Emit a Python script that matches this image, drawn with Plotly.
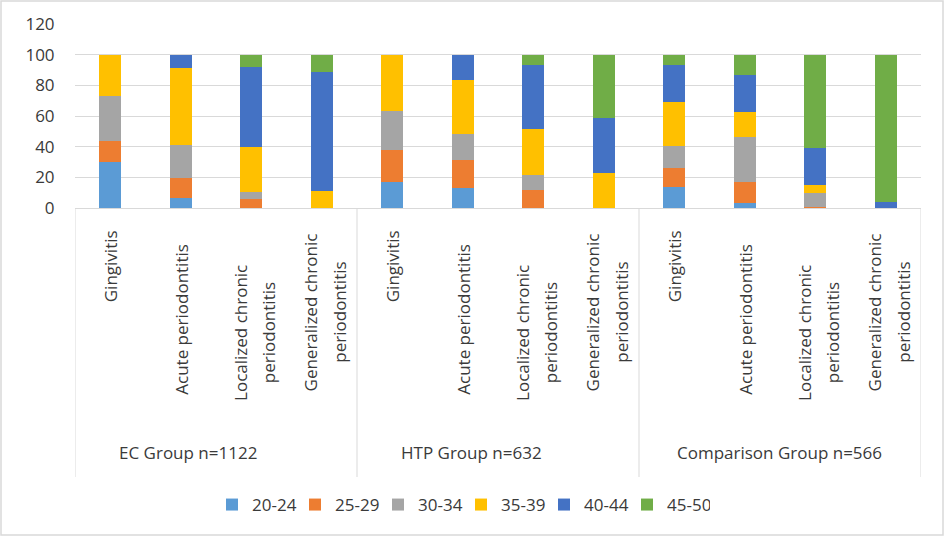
import plotly.graph_objects as go

# Categories
groups = ["EC Group n=1122", "HTP Group n=632", "Comparison Group n=566"]
conditions = [
    "Gingivitis",
    "Acute periodontitis",
    "Localized chronic<br>periodontitis",
    "Generalized chronic<br>periodontitis",
]

# Age bands (%), 12 columns = 3 groups x 4 conditions
age_20_24 = [30.3, 6.8, 0, 0,    17.0, 13.3, 0, 0,     13.7, 3.0, 0, 0]
age_25_29 = [13.5, 13.0, 5.9, 0, 21.1, 18.1, 11.8, 0,  12.7, 14.0, 0.7, 0]
age_30_34 = [29.4, 21.4, 4.6, 0, 25.3, 17.0, 9.8, 0,   14.1, 29.0, 9.1, 0]
age_35_39 = [26.8, 50.3, 29.4, 11.1, 36.6, 35.3, 30.0, 22.9, 28.8, 16.7, 5.2, 0]
age_40_44 = [0, 8.5, 52.3, 77.8, 0, 16.3, 41.4, 36.1,  23.7, 24.2, 24.4, 3.9]
age_45_50 = [0, 0, 7.8, 11.1,    0, 0, 7.0, 41.0,      7.0, 13.1, 60.6, 96.1]

series = [
    ("20-24", age_20_24, "#5B9BD5"),
    ("25-29", age_25_29, "#ED7D31"),
    ("30-34", age_30_34, "#A5A5A5"),
    ("35-39", age_35_39, "#FFC000"),
    ("40-44", age_40_44, "#4472C4"),
    ("45-50", age_45_50, "#70AD47"),
]

W, H = 945, 537
L, R, T, B = 75, 24, 24, 329   # plot area 75..921 x 24..208
FONT = "Open Sans"
TXT = "#3a3a3a"
GRID = "#d9d9d9"


def py(pix):
    # pixel row -> paper y
    return (H - B - pix) / (H - B - T)


def px(pix):
    return (pix - L) / (W - L - R)


xs = list(range(len(groups) * len(conditions)))

fig = go.Figure()
for name, vals, col in series:
    fig.add_trace(go.Bar(
        x=xs, y=vals, name=name, width=0.31,
        marker=dict(color=col, line=dict(width=0)),
    ))

# condition labels (rotated, one annotation per line) and group labels
label_mid = [266, 319, 333, 312]
line_shift = [-0.16, 0.24]
annotations = []
for g, grp in enumerate(groups):
    for c, cond in enumerate(conditions):
        lines = cond.split("<br>")
        for k, line in enumerate(lines):
            dx = line_shift[k] if len(lines) > 1 else 0
            annotations.append(dict(
                x=g * 4 + c + dx, y=py(label_mid[c]), xref="x", yref="paper",
                text=line, textangle=-90, showarrow=False,
                xanchor="center", yanchor="middle",
                font=dict(family=FONT, size=17, color=TXT),
            ))
group_x = [1.1, 5.13, 9.49]
for g, grp in enumerate(groups):
    annotations.append(dict(
        x=group_x[g], y=py(452), xref="x", yref="paper",
        text=grp, showarrow=False, xanchor="center", yanchor="middle",
        font=dict(family=FONT, size=17, color=TXT),
    ))

shapes = []
for xb in [-0.5, 3.5, 7.5, 11.5]:
    shapes.append(dict(type="line", xref="x", yref="paper",
                       x0=xb, x1=xb, y0=0, y1=py(477),
                       line=dict(color=GRID, width=1)))
# chart border
shapes.append(dict(type="rect", xref="paper", yref="paper",
                   x0=px(1), x1=px(943), y0=py(535), y1=py(1),
                   line=dict(color=GRID, width=1.5)))

fig.update_layout(
    width=W, height=H,
    margin=dict(l=L, r=R, t=T, b=B),
    barmode="stack",
    plot_bgcolor="white", paper_bgcolor="white",
    font=dict(family=FONT, size=17, color=TXT),
    showlegend=True,
    legend=dict(orientation="h", x=px(212), y=py(505),
                xanchor="left", yanchor="middle",
                font=dict(family=FONT, size=17, color=TXT),
                itemwidth=30, entrywidth=38, entrywidthmode="pixels",
                traceorder="normal"),
    annotations=annotations,
    shapes=shapes,
)
fig.update_xaxes(range=[-0.5, 11.5], showticklabels=False, showgrid=False,
                 zeroline=False, showline=True, linecolor=GRID, linewidth=1,
                 ticks="")
fig.update_yaxes(range=[0, 120], dtick=20, showgrid=True, gridcolor=GRID,
                 gridwidth=1, zeroline=False, showline=False,
                 ticks="outside", ticklen=16, tickcolor="rgba(0,0,0,0)",
                 tickfont=dict(family=FONT, size=17, color=TXT))

fig.write_html("out.html", config={"displayModeBar": False},
               post_script="document.body.style.margin='0';")
